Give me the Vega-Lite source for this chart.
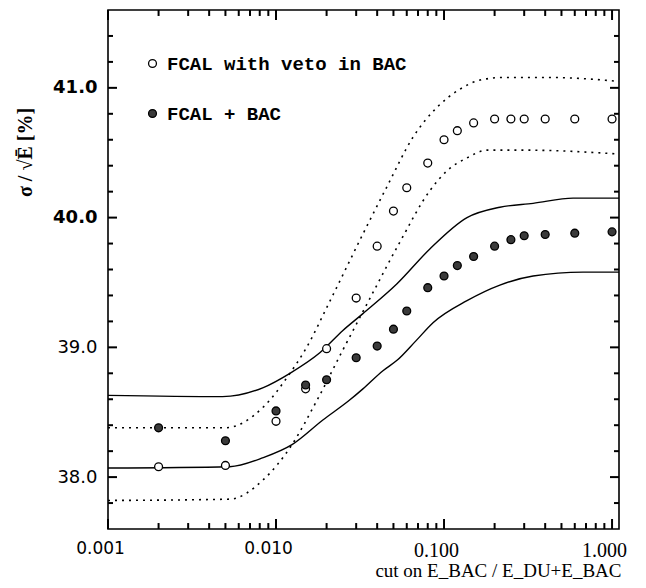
{
  "$schema": "https://vega.github.io/schema/vega-lite/v6.json",
  "width": 511,
  "height": 519,
  "autosize": {"type": "none"},
  "padding": {"left": 108, "top": 10, "right": 27, "bottom": 59},
  "background": "white",
  "config": {
    "view": {"stroke": "black", "strokeWidth": 1.6},
    "axis": {"domain": false, "grid": false, "ticks": false, "labelColor": "black", "titleColor": "black", "labelFlush": false}
  },
  "datasets": {
    "points": [
      {"x": 0.002, "y": 38.08, "series": "FCAL with veto in BAC"},
      {"x": 0.005, "y": 38.09, "series": "FCAL with veto in BAC"},
      {"x": 0.01, "y": 38.43, "series": "FCAL with veto in BAC"},
      {"x": 0.015, "y": 38.68, "series": "FCAL with veto in BAC"},
      {"x": 0.02, "y": 38.99, "series": "FCAL with veto in BAC"},
      {"x": 0.03, "y": 39.38, "series": "FCAL with veto in BAC"},
      {"x": 0.04, "y": 39.78, "series": "FCAL with veto in BAC"},
      {"x": 0.05, "y": 40.05, "series": "FCAL with veto in BAC"},
      {"x": 0.06, "y": 40.23, "series": "FCAL with veto in BAC"},
      {"x": 0.08, "y": 40.42, "series": "FCAL with veto in BAC"},
      {"x": 0.1, "y": 40.6, "series": "FCAL with veto in BAC"},
      {"x": 0.12, "y": 40.67, "series": "FCAL with veto in BAC"},
      {"x": 0.15, "y": 40.73, "series": "FCAL with veto in BAC"},
      {"x": 0.2, "y": 40.76, "series": "FCAL with veto in BAC"},
      {"x": 0.25, "y": 40.76, "series": "FCAL with veto in BAC"},
      {"x": 0.3, "y": 40.76, "series": "FCAL with veto in BAC"},
      {"x": 0.4, "y": 40.76, "series": "FCAL with veto in BAC"},
      {"x": 0.6, "y": 40.76, "series": "FCAL with veto in BAC"},
      {"x": 1.0, "y": 40.76, "series": "FCAL with veto in BAC"},
      {"x": 0.002, "y": 38.38, "series": "FCAL + BAC"},
      {"x": 0.005, "y": 38.28, "series": "FCAL + BAC"},
      {"x": 0.01, "y": 38.51, "series": "FCAL + BAC"},
      {"x": 0.015, "y": 38.71, "series": "FCAL + BAC"},
      {"x": 0.02, "y": 38.75, "series": "FCAL + BAC"},
      {"x": 0.03, "y": 38.92, "series": "FCAL + BAC"},
      {"x": 0.04, "y": 39.01, "series": "FCAL + BAC"},
      {"x": 0.05, "y": 39.14, "series": "FCAL + BAC"},
      {"x": 0.06, "y": 39.28, "series": "FCAL + BAC"},
      {"x": 0.08, "y": 39.46, "series": "FCAL + BAC"},
      {"x": 0.1, "y": 39.55, "series": "FCAL + BAC"},
      {"x": 0.12, "y": 39.63, "series": "FCAL + BAC"},
      {"x": 0.15, "y": 39.7, "series": "FCAL + BAC"},
      {"x": 0.2, "y": 39.78, "series": "FCAL + BAC"},
      {"x": 0.25, "y": 39.83, "series": "FCAL + BAC"},
      {"x": 0.3, "y": 39.86, "series": "FCAL + BAC"},
      {"x": 0.4, "y": 39.87, "series": "FCAL + BAC"},
      {"x": 0.6, "y": 39.88, "series": "FCAL + BAC"},
      {"x": 1.0, "y": 39.89, "series": "FCAL + BAC"}
    ],
    "solid": [
      {"x": 0.001, "y": 38.63, "curve": "su"},
      {"x": 0.0048, "y": 38.62, "curve": "su"},
      {"x": 0.0084, "y": 38.69, "curve": "su"},
      {"x": 0.0121, "y": 38.8, "curve": "su"},
      {"x": 0.0183, "y": 38.96, "curve": "su"},
      {"x": 0.025, "y": 39.13, "curve": "su"},
      {"x": 0.0329, "y": 39.26, "curve": "su"},
      {"x": 0.0525, "y": 39.49, "curve": "su"},
      {"x": 0.0826, "y": 39.76, "curve": "su"},
      {"x": 0.137, "y": 40.0, "curve": "su"},
      {"x": 0.215, "y": 40.08, "curve": "su"},
      {"x": 0.339, "y": 40.11, "curve": "su"},
      {"x": 0.586, "y": 40.15, "curve": "su"},
      {"x": 1.1, "y": 40.15, "curve": "su"},
      {"x": 0.001, "y": 38.07, "curve": "sl"},
      {"x": 0.0053, "y": 38.08, "curve": "sl"},
      {"x": 0.0084, "y": 38.15, "curve": "sl"},
      {"x": 0.01245, "y": 38.25, "curve": "sl"},
      {"x": 0.019, "y": 38.44, "curve": "sl"},
      {"x": 0.0272, "y": 38.59, "curve": "sl"},
      {"x": 0.0329, "y": 38.68, "curve": "sl"},
      {"x": 0.0433, "y": 38.82, "curve": "sl"},
      {"x": 0.0525, "y": 38.9, "curve": "sl"},
      {"x": 0.068, "y": 39.05, "curve": "sl"},
      {"x": 0.086, "y": 39.19, "curve": "sl"},
      {"x": 0.137, "y": 39.36, "curve": "sl"},
      {"x": 0.215, "y": 39.48, "curve": "sl"},
      {"x": 0.339, "y": 39.55, "curve": "sl"},
      {"x": 0.672, "y": 39.58, "curve": "sl"},
      {"x": 1.1, "y": 39.58, "curve": "sl"}
    ],
    "dotted": [
      {"x": 0.001, "y": 38.38, "curve": "du"},
      {"x": 0.005, "y": 38.38, "curve": "du"},
      {"x": 0.0084, "y": 38.54, "curve": "du"},
      {"x": 0.0121, "y": 38.8, "curve": "du"},
      {"x": 0.0149, "y": 38.98, "curve": "du"},
      {"x": 0.021, "y": 39.36, "curve": "du"},
      {"x": 0.0331, "y": 39.88, "curve": "du"},
      {"x": 0.0458, "y": 40.24, "curve": "du"},
      {"x": 0.0654, "y": 40.62, "curve": "du"},
      {"x": 0.0908, "y": 40.85, "curve": "du"},
      {"x": 0.1245, "y": 40.99, "curve": "du"},
      {"x": 0.164, "y": 41.06, "curve": "du"},
      {"x": 0.225, "y": 41.08, "curve": "du"},
      {"x": 0.42, "y": 41.08, "curve": "du"},
      {"x": 1.1, "y": 41.05, "curve": "du"},
      {"x": 0.001, "y": 37.82, "curve": "dl"},
      {"x": 0.0053, "y": 37.83, "curve": "dl"},
      {"x": 0.0084, "y": 37.98, "curve": "dl"},
      {"x": 0.01245, "y": 38.25, "curve": "dl"},
      {"x": 0.0175, "y": 38.59, "curve": "dl"},
      {"x": 0.025, "y": 38.98, "curve": "dl"},
      {"x": 0.0363, "y": 39.38, "curve": "dl"},
      {"x": 0.054, "y": 39.8, "curve": "dl"},
      {"x": 0.0826, "y": 40.21, "curve": "dl"},
      {"x": 0.104, "y": 40.36, "curve": "dl"},
      {"x": 0.137, "y": 40.46, "curve": "dl"},
      {"x": 0.18, "y": 40.52, "curve": "dl"},
      {"x": 0.3, "y": 40.52, "curve": "dl"},
      {"x": 1.1, "y": 40.49, "curve": "dl"}
    ],
    "xmajor": [{"v": 0.001}, {"v": 0.01}, {"v": 0.1}, {"v": 1.0}],
    "xminor": [
      {"v": 0.002}, {"v": 0.003}, {"v": 0.004}, {"v": 0.005}, {"v": 0.006}, {"v": 0.007}, {"v": 0.008}, {"v": 0.009},
      {"v": 0.02}, {"v": 0.03}, {"v": 0.04}, {"v": 0.05}, {"v": 0.06}, {"v": 0.07}, {"v": 0.08}, {"v": 0.09},
      {"v": 0.2}, {"v": 0.3}, {"v": 0.4}, {"v": 0.5}, {"v": 0.6}, {"v": 0.7}, {"v": 0.8}, {"v": 0.9}
    ],
    "ymajor": [{"v": 38.0}, {"v": 39.0}, {"v": 40.0}, {"v": 41.0}],
    "yminor": [
      {"v": 37.8}, {"v": 38.2}, {"v": 38.4}, {"v": 38.6}, {"v": 38.8}, {"v": 39.2}, {"v": 39.4}, {"v": 39.6},
      {"v": 39.8}, {"v": 40.2}, {"v": 40.4}, {"v": 40.6}, {"v": 40.8}, {"v": 41.2}, {"v": 41.4}
    ]
  },
  "layer": [
    {
      "data": {"name": "solid"},
      "mark": {"type": "line", "color": "black", "strokeWidth": 1.4, "interpolate": "monotone"},
      "encoding": {
        "x": {"field": "x", "type": "quantitative", "scale": {"type": "log", "domain": [0.001, 1.1], "nice": false}, "axis": null},
        "y": {"field": "y", "type": "quantitative", "scale": {"domain": [37.6, 41.6], "nice": false, "zero": false}, "axis": null},
        "detail": {"field": "curve"},
        "order": {"field": "x"}
      }
    },
    {
      "data": {"name": "dotted"},
      "mark": {"type": "line", "color": "black", "strokeWidth": 1.6, "strokeDash": [2, 5], "interpolate": "monotone"},
      "encoding": {
        "x": {"field": "x", "type": "quantitative", "axis": null},
        "y": {"field": "y", "type": "quantitative", "axis": null},
        "detail": {"field": "curve"},
        "order": {"field": "x"}
      }
    },
    {
      "data": {"name": "xmajor"},
      "mark": {"type": "rule", "color": "black", "strokeWidth": 2},
      "encoding": {
        "x": {"field": "v", "type": "quantitative", "axis": null},
        "y": {"datum": 37.6, "type": "quantitative", "axis": null},
        "y2": {"datum": 37.677}
      }
    },
    {
      "data": {"name": "xminor"},
      "mark": {"type": "rule", "color": "black", "strokeWidth": 2},
      "encoding": {
        "x": {"field": "v", "type": "quantitative", "axis": null},
        "y": {"datum": 37.6, "type": "quantitative", "axis": null},
        "y2": {"datum": 37.646}
      }
    },
    {
      "data": {"name": "xmajor"},
      "mark": {"type": "rule", "color": "black", "strokeWidth": 2},
      "encoding": {
        "x": {"field": "v", "type": "quantitative", "axis": null},
        "y": {"datum": 41.6, "type": "quantitative", "axis": null},
        "y2": {"datum": 41.523}
      }
    },
    {
      "data": {"name": "xminor"},
      "mark": {"type": "rule", "color": "black", "strokeWidth": 2},
      "encoding": {
        "x": {"field": "v", "type": "quantitative", "axis": null},
        "y": {"datum": 41.6, "type": "quantitative", "axis": null},
        "y2": {"datum": 41.554}
      }
    },
    {
      "data": {"name": "ymajor"},
      "mark": {"type": "rule", "color": "black", "strokeWidth": 2},
      "encoding": {
        "y": {"field": "v", "type": "quantitative", "axis": null},
        "x": {"datum": 0.001, "type": "quantitative", "axis": null},
        "x2": {"datum": 0.001131}
      }
    },
    {
      "data": {"name": "yminor"},
      "mark": {"type": "rule", "color": "black", "strokeWidth": 2},
      "encoding": {
        "y": {"field": "v", "type": "quantitative", "axis": null},
        "x": {"datum": 0.001, "type": "quantitative", "axis": null},
        "x2": {"datum": 0.001071}
      }
    },
    {
      "data": {"name": "ymajor"},
      "mark": {"type": "rule", "color": "black", "strokeWidth": 2},
      "encoding": {
        "y": {"field": "v", "type": "quantitative", "axis": null},
        "x": {"datum": 1.1, "type": "quantitative", "axis": null},
        "x2": {"datum": 0.9723}
      }
    },
    {
      "data": {"name": "yminor"},
      "mark": {"type": "rule", "color": "black", "strokeWidth": 2},
      "encoding": {
        "y": {"field": "v", "type": "quantitative", "axis": null},
        "x": {"datum": 1.1, "type": "quantitative", "axis": null},
        "x2": {"datum": 1.0272}
      }
    },
    {
      "data": {"name": "points"},
      "mark": {"type": "point", "shape": "circle", "filled": true, "stroke": "black", "strokeWidth": 1.3, "size": 62, "opacity": 1},
      "encoding": {
        "x": {"field": "x", "type": "quantitative",
              "axis": {"orient": "bottom", "values": [0.001, 0.01, 0.1, 1], "format": ".3f", "ticks": false, "labelPadding": 11, "labelOffset": -8,
                       "labelFont": {"condition": {"test": "datum.value < 0.05", "value": "DejaVu Sans"}, "value": "Liberation Serif"},
                       "labelFontSize": {"condition": {"test": "datum.value < 0.05", "value": 17}, "value": 20},
                       "title": "cut on E_BAC / E_DU+E_BAC", "titleFont": "Liberation Serif", "titleFontSize": 19, "titleFontWeight": "normal",
                       "titleAnchor": "end", "titleAlign": "right", "titleBaseline": "middle", "titleX": 513, "titleY": 41}},
        "y": {"field": "y", "type": "quantitative",
              "axis": {"orient": "left", "values": [38, 39, 40, 41], "format": ".1f", "ticks": false, "labelPadding": 11,
                       "labelFont": "DejaVu Sans", "labelFontSize": 18,
                       "labelFontWeight": {"condition": {"test": "datum.value >= 40", "value": "bold"}, "value": "normal"},
                       "title": "σ / √Ē [%]", "titleFont": "Liberation Serif", "titleFontSize": 20, "titleFontWeight": "bold",
                       "titleAngle": -90, "titleAlign": "center", "titleBaseline": "middle", "titleX": -83, "titleY": 142}},
        "fill": {"field": "series", "type": "nominal",
                 "scale": {"domain": ["FCAL with veto in BAC", "FCAL + BAC"], "range": ["white", "#3a3a3a"]},
                 "legend": {"orient": "none", "legendX": 35, "legendY": 44, "title": null, "symbolType": "circle", "symbolSize": 62,
                            "symbolStrokeColor": "black", "symbolStrokeWidth": 1.3, "symbolOpacity": 1,
                            "labelFont": "Liberation Mono", "labelFontWeight": "bold", "labelFontSize": 19, "labelColor": "black",
                            "labelOffset": 5, "rowPadding": 30, "labelLimit": 400}}
      }
    }
  ],
  "resolve": {"axis": {"x": "independent", "y": "independent"}}
}
